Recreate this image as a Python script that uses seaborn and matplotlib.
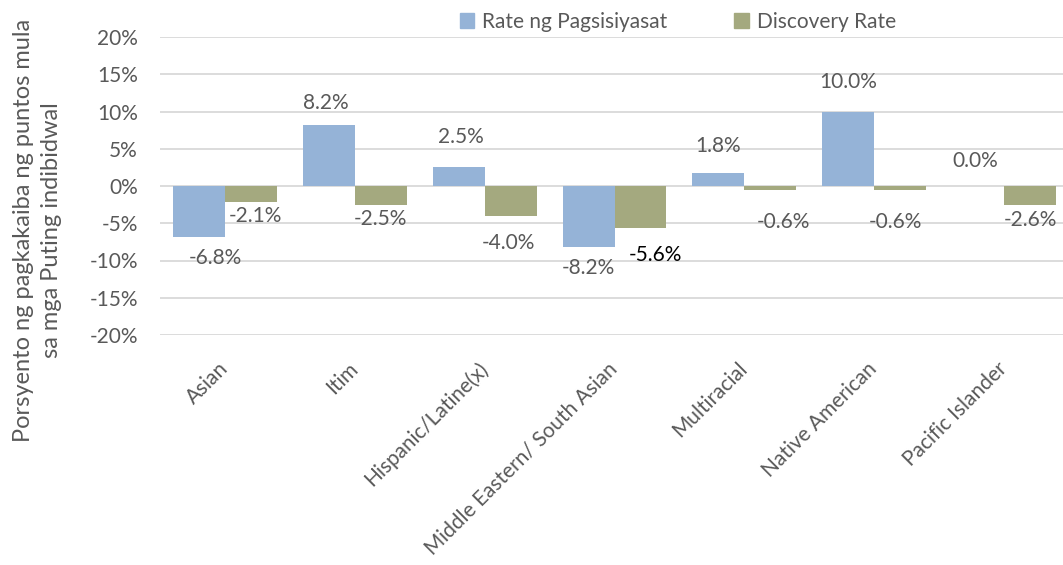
import pandas as pd
import matplotlib.pyplot as plt
import seaborn as sns
from matplotlib.ticker import FuncFormatter

# Mga datos mula sa tsart
categories = ['Asian', 'Itim', 'Hispanic/Latine(x)', 'Middle Eastern/ South Asian',
              'Multiracial', 'Native American', 'Pacific Islander']
rate_pagsisiyasat = [-6.8, 8.2, 2.5, -8.2, 1.8, 10.0, 0.0]
discovery_rate = [-2.1, -2.5, -4.0, -5.6, -0.6, -0.6, -2.6]
series_names = ['Rate ng Pagsisiyasat', 'Discovery Rate']
y_ticks = [-20, -15, -10, -5, 0, 5, 10, 15, 20]

# paglipat ng mga label (pixels: dx, dy pataas)
blue_offsets = [(16, -21), (-3, 22), (2, 30), (0, -21), (0, 27), (0, 29), (-3, 25)]
green_offsets = [(5, -14), (0, -14), (-2, -27), (15, -27), (13, -32), (-5, -32), (0, -15)]

colors = ['#95B3D7', '#A4A97F']
text_color = '#595959'
fs = 15

df = pd.DataFrame({
    'kategorya': categories * 2,
    'serye': [series_names[0]] * len(categories) + [series_names[1]] * len(categories),
    'halaga': rate_pagsisiyasat + discovery_rate,
})

sns.set_style('white')
plt.rcParams['font.family'] = ['Lato', 'DejaVu Sans']

fig = plt.figure(figsize=(10.63, 5.65), dpi=100)
ax = fig.add_axes([160 / 1063, 1 - 335 / 565, 909 / 1063, 298 / 565])

sns.barplot(data=df, x='kategorya', y='halaga', hue='serye', palette=colors,
            order=categories, hue_order=series_names, ax=ax, width=0.8,
            saturation=1, linewidth=0, legend=False)

ax.set_ylim(-20, 20)
ax.set_yticks(y_ticks)
ax.yaxis.set_major_formatter(FuncFormatter(lambda v, p: f'{v:.0f}%'))
ax.grid(axis='y', color='#D9D9D9', linewidth=1.3)
ax.set_axisbelow(True)
for s in ax.spines.values():
    s.set_visible(False)
ax.tick_params(axis='both', length=0, labelsize=fs, labelcolor=text_color)
ax.tick_params(axis='y', pad=16)
ax.tick_params(axis='x', pad=22)
ax.set_xlabel('')
ax.set_ylabel('')
for lab in ax.get_xticklabels():
    lab.set_rotation(45)
    lab.set_ha('right')
    lab.set_va('center')
    lab.set_rotation_mode('anchor')

# mga label ng halaga
for i, (vals, offs) in enumerate([(rate_pagsisiyasat, blue_offsets), (discovery_rate, green_offsets)]):
    for j, v in enumerate(vals):
        xpos = j - 0.2 + 0.4 * i
        clr = 'black' if (i == 1 and j == 3) else text_color
        ax.annotate(f'{v:.1f}%', (xpos, v), xytext=offs[j], textcoords='offset pixels',
                    ha='center', va='center', fontsize=fs, color=clr)

# legend
handles = [plt.Rectangle((0, 0), 1, 1, color=c) for c in colors]
fig.legend(handles, series_names, loc='center', bbox_to_anchor=(678 / 1063, 1 - 22 / 565),
           ncol=2, frameon=False, fontsize=fs, labelcolor=text_color,
           handlelength=0.7, handleheight=0.7, handletextpad=0.4, columnspacing=3.2)

fig.text(0.035, 1 - 230 / 565, 'Porsyento ng pagkakaiba ng puntos mula\nsa mga Puting indibidwal',
         rotation=90, ha='center', va='center', fontsize=17, color=text_color,
         multialignment='center', linespacing=1.4)

fig.savefig('out.png', dpi=100)
